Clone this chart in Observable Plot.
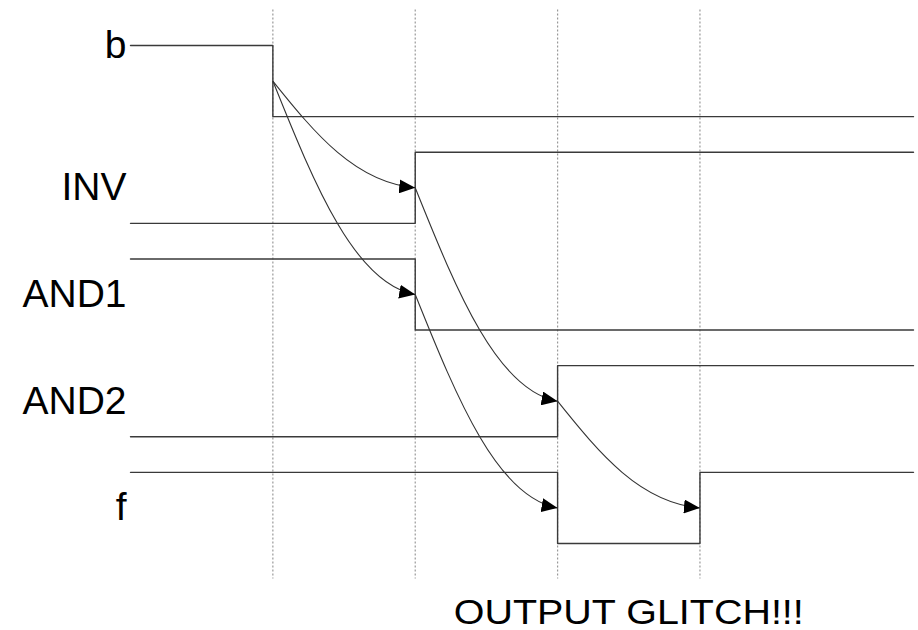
<!DOCTYPE html>
<html>
<head>
<meta charset="utf-8">
<script src="https://cdn.jsdelivr.net/npm/d3@7"></script>
<script src="https://cdn.jsdelivr.net/npm/@observablehq/plot@0.6"></script>
<style>
  html, body { margin: 0; padding: 0; background: #fff; }
  #chart svg { display: block; }
</style>
</head>
<body>
<div id="chart"></div>
<script>
// ---- data ----
const signals = ["b", "INV", "AND1", "AND2", "f"];
const times = [0, 1, 2, 3, 4, 5.5];
const bLevels    = [1, 0, 0, 0, 0, 0];
const invLevels  = [0, 0, 1, 1, 1, 1];
const and1Levels = [1, 1, 0, 0, 0, 0];
const and2Levels = [0, 0, 0, 1, 1, 1];
const fLevels    = [1, 1, 1, 0, 1, 1];
const edgeTimes = [1, 2, 3, 4];
// causal arrows: from (signal, edge time) to (signal, edge time)
const arrowFrom = ["b", "b", "INV", "AND1", "AND2"];
const arrowFromT = [1, 1, 2, 2, 3];
const arrowTo = ["INV", "AND1", "AND2", "f", "f"];
const arrowToT = [2, 2, 3, 3, 4];
const glitchLabel = "OUTPUT GLITCH!!!";

// ---- layout helpers ----
const rowPitch = 1.5;
const rowOf = (s) => signals.indexOf(s);
const levelY = (row, level) => row * rowPitch + (1 - level);
const midY = (row) => row * rowPitch + 0.5;
const gridSpan = [-0.5, 7.5];

const allLevels = [bLevels, invLevels, and1Levels, and2Levels, fLevels];
const waves = signals.flatMap((s, i) =>
  times.map((t, j) => ({signal: s, t, y: levelY(i, allLevels[i][j])}))
);
const labels = signals.map((s, i) => ({name: s, y: i === 0 ? levelY(0, 1) : midY(i)}));
const arrows = arrowFrom.map((s, i) => ({
  x1: arrowFromT[i], y1: midY(rowOf(s)),
  x2: arrowToT[i], y2: midY(rowOf(arrowTo[i]))
}));

// custom bezier curve: leaves the source edge steeply, arrives nearly horizontal
function causalCurve(context) {
  let pts;
  return {
    areaStart() {}, areaEnd() {},
    lineStart() { pts = []; },
    point(x, y) { pts.push([+x, +y]); },
    lineEnd() {
      if (pts.length < 2) return;
      const [x0, y0] = pts[0], [x1, y1] = pts[pts.length - 1];
      const dx = x1 - x0, dy = y1 - y0;
      context.moveTo(x0, y0);
      context.bezierCurveTo(x0 + 0.3 * dx, y0 + 0.5 * dy, x1 - 0.42 * dx, y1 - 0.05 * dy, x1, y1);
    }
  };
}

// filled triangular arrowhead marker
function triangleMarker(color, context) {
  const doc = context.document;
  const ns = "http://www.w3.org/2000/svg";
  const m = doc.createElementNS(ns, "marker");
  m.setAttribute("viewBox", "-16 -7 16 14");
  m.setAttribute("markerWidth", 16);
  m.setAttribute("markerHeight", 14);
  m.setAttribute("markerUnits", "userSpaceOnUse");
  m.setAttribute("refX", 0);
  m.setAttribute("refY", 0);
  m.setAttribute("orient", "auto");
  const p = doc.createElementNS(ns, "path");
  p.setAttribute("d", "M-16,-7L0,0L-16,7Z");
  p.setAttribute("fill", "#000");
  p.setAttribute("stroke", "none");
  m.appendChild(p);
  return m;
}

const plot = Plot.plot({
  width: 918,
  height: 630,
  x: {domain: [0, 5.5], range: [130, 913], axis: null},
  y: {domain: [0, 7], range: [45, 543], axis: null},
  style: {background: "#fff", fontFamily: "'Liberation Sans', Arial, sans-serif"},
  marks: [
    Plot.ruleX(edgeTimes, {x: d => d, y1: gridSpan[0], y2: gridSpan[1], stroke: "#999", strokeWidth: 1.2, strokeDasharray: "2,2"}),
    Plot.line(waves, {x: "t", y: "y", z: "signal", curve: "step-after", stroke: "#3a3a3a", strokeWidth: 1.4}),
    Plot.link(arrows, {x1: "x1", y1: "y1", x2: "x2", y2: "y2", curve: causalCurve, stroke: "#333", strokeWidth: 1.1, markerEnd: triangleMarker}),
    Plot.text(labels, {x: 0, y: "y", text: "name", textAnchor: "end", dx: -4, fontSize: 39, fill: "#000", lineAnchor: "middle"}),
    Plot.text([glitchLabel], {x: 3.5, y: 7.97, text: d => d, fontSize: 35, fill: "#000", lineAnchor: "middle", className: "glitch"})
  ]
});

document.getElementById("chart").appendChild(plot);
d3.select(plot).selectAll(".glitch text")
  .attr("textLength", 350)
  .attr("lengthAdjust", "spacingAndGlyphs");
</script>
</body>
</html>
